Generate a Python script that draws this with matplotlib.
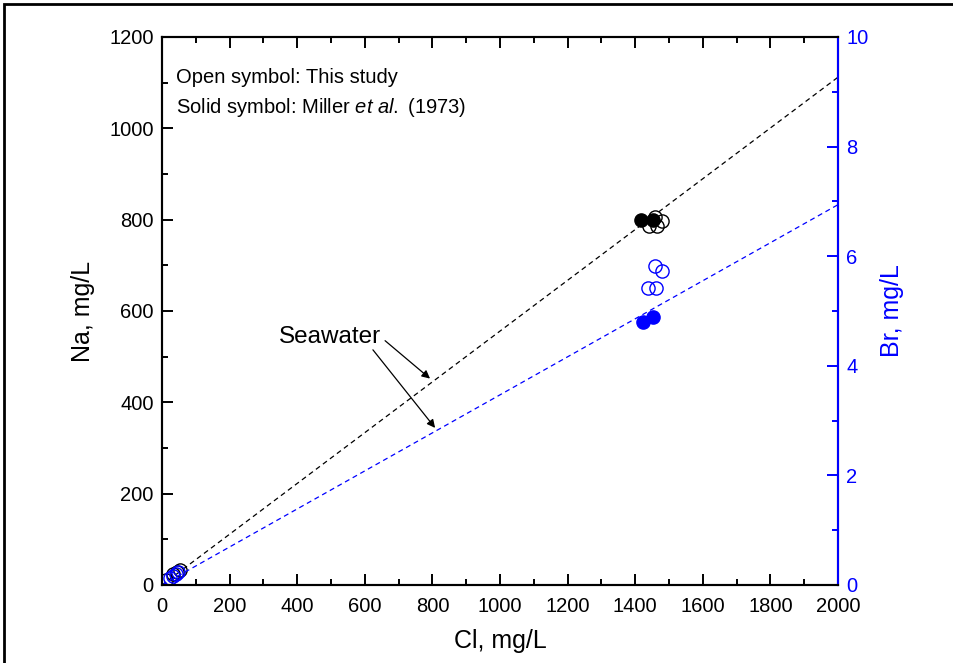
import numpy as np
import matplotlib
matplotlib.use("Agg")
import matplotlib.pyplot as plt
from matplotlib.patches import Rectangle
from matplotlib.ticker import MultipleLocator

plt.rcParams["font.family"] = ["Liberation Sans", "DejaVu Sans"]
plt.rcParams["mathtext.fontset"] = "custom"
plt.rcParams["mathtext.it"] = "Liberation Sans:italic"
plt.rcParams["mathtext.rm"] = "Liberation Sans"

# ---------------- data ----------------
# Na vs Cl
na_open_cl = [1458, 1479, 1440, 1465, 12, 34, 44, 52]
na_open_val = [805, 797, 787, 787, 10, 24, 28, 32]
na_solid_cl = [1418, 1453]
na_solid_val = [800, 800]

# Br vs Cl
br_open_cl = [1458, 1479, 1438, 1461, 24, 32, 40, 48]
br_open_val = [5.82, 5.73, 5.42, 5.42, 0.13, 0.16, 0.20, 0.24]
br_solid_cl = [1423, 1453]
br_solid_val = [4.80, 4.89]

# seawater ratios
sw_cl = [0, 2000]
sw_na_ratio = 0.556
sw_br_ratio = 0.00347

# ---------------- figure ----------------
fig = plt.figure(figsize=(9.54, 6.63), dpi=100)
ax = fig.add_axes([162/954, 1-585/663, (838-162)/954, (585-37)/663])
ax2 = ax.twinx()

ax.plot(sw_cl, [c*sw_na_ratio for c in sw_cl], "k--", lw=0.9, dashes=(4, 3))
ax2.plot(sw_cl, [c*sw_br_ratio for c in sw_cl], "--", color="blue", lw=0.9, dashes=(4, 3))

ax.plot(na_open_cl, na_open_val, "o", ms=9.5, mfc="none", mec="black", mew=1)
ax.plot(na_solid_cl, na_solid_val, "o", ms=9.5, mfc="black", mec="black")
ax2.plot(br_open_cl, br_open_val, "o", ms=9.5, mfc="none", mec="blue", mew=1)
ax2.plot(br_solid_cl, br_solid_val, "o", ms=9.5, mfc="blue", mec="blue")

ax.set_xlim(0, 2000)
ax.set_ylim(0, 1200)
ax2.set_ylim(0, 10)

ax.xaxis.set_major_locator(MultipleLocator(200))
ax.xaxis.set_minor_locator(MultipleLocator(100))
ax.yaxis.set_major_locator(MultipleLocator(200))
ax.yaxis.set_minor_locator(MultipleLocator(100))
ax2.yaxis.set_major_locator(MultipleLocator(2))
ax2.yaxis.set_minor_locator(MultipleLocator(1))

ax.tick_params(which="both", direction="in", top=True, labelsize=14.5, width=1.4, pad=6)
ax.tick_params(axis="x", pad=9)
ax.tick_params(which="major", length=8)
ax.tick_params(which="minor", length=4.5)
ax.tick_params(axis="y", right=False)
ax2.tick_params(which="both", direction="in", colors="blue", labelsize=14.5, width=1.4, pad=6)
ax2.tick_params(which="major", length=8)
ax2.tick_params(which="minor", length=4.5)

for s in ax.spines.values():
    s.set_linewidth(1.5)
for s in ax2.spines.values():
    s.set_linewidth(1.5)
ax2.spines["right"].set_color("blue")

ax.set_xlabel("Cl, mg/L", fontsize=18, labelpad=9)
ax.set_ylabel("Na, mg/L", fontsize=18, labelpad=10)
ax2.set_ylabel("Br, mg/L", fontsize=18, color="blue", labelpad=8)

ax.text(0.02, 0.927, "Open symbol: This study", transform=ax.transAxes,
        fontsize=14.5, va="center")
ax.text(0.02, 0.872, r"Solid symbol: Miller $\it{et\ al.}$ (1973)", transform=ax.transAxes,
        fontsize=14.5, va="center")

ax.text(497, 543, "Seawater", fontsize=17.5, ha="center", va="center")
ax.annotate("", xy=(793, 452), xytext=(660, 535),
            arrowprops=dict(arrowstyle="-|>", color="black", lw=0.9,
                            mutation_scale=12, shrinkA=0, shrinkB=0))
ax.annotate("", xy=(808, 344), xytext=(624, 515),
            arrowprops=dict(arrowstyle="-|>", color="black", lw=0.9,
                            mutation_scale=12, shrinkA=0, shrinkB=0))

# outer frame
fig.add_artist(Rectangle((4.5/954, -0.1), 1.2, 1 - 4/663 + 0.1,
                         transform=fig.transFigure, fill=False,
                         edgecolor="black", lw=2))

fig.savefig("out.png", dpi=100)
